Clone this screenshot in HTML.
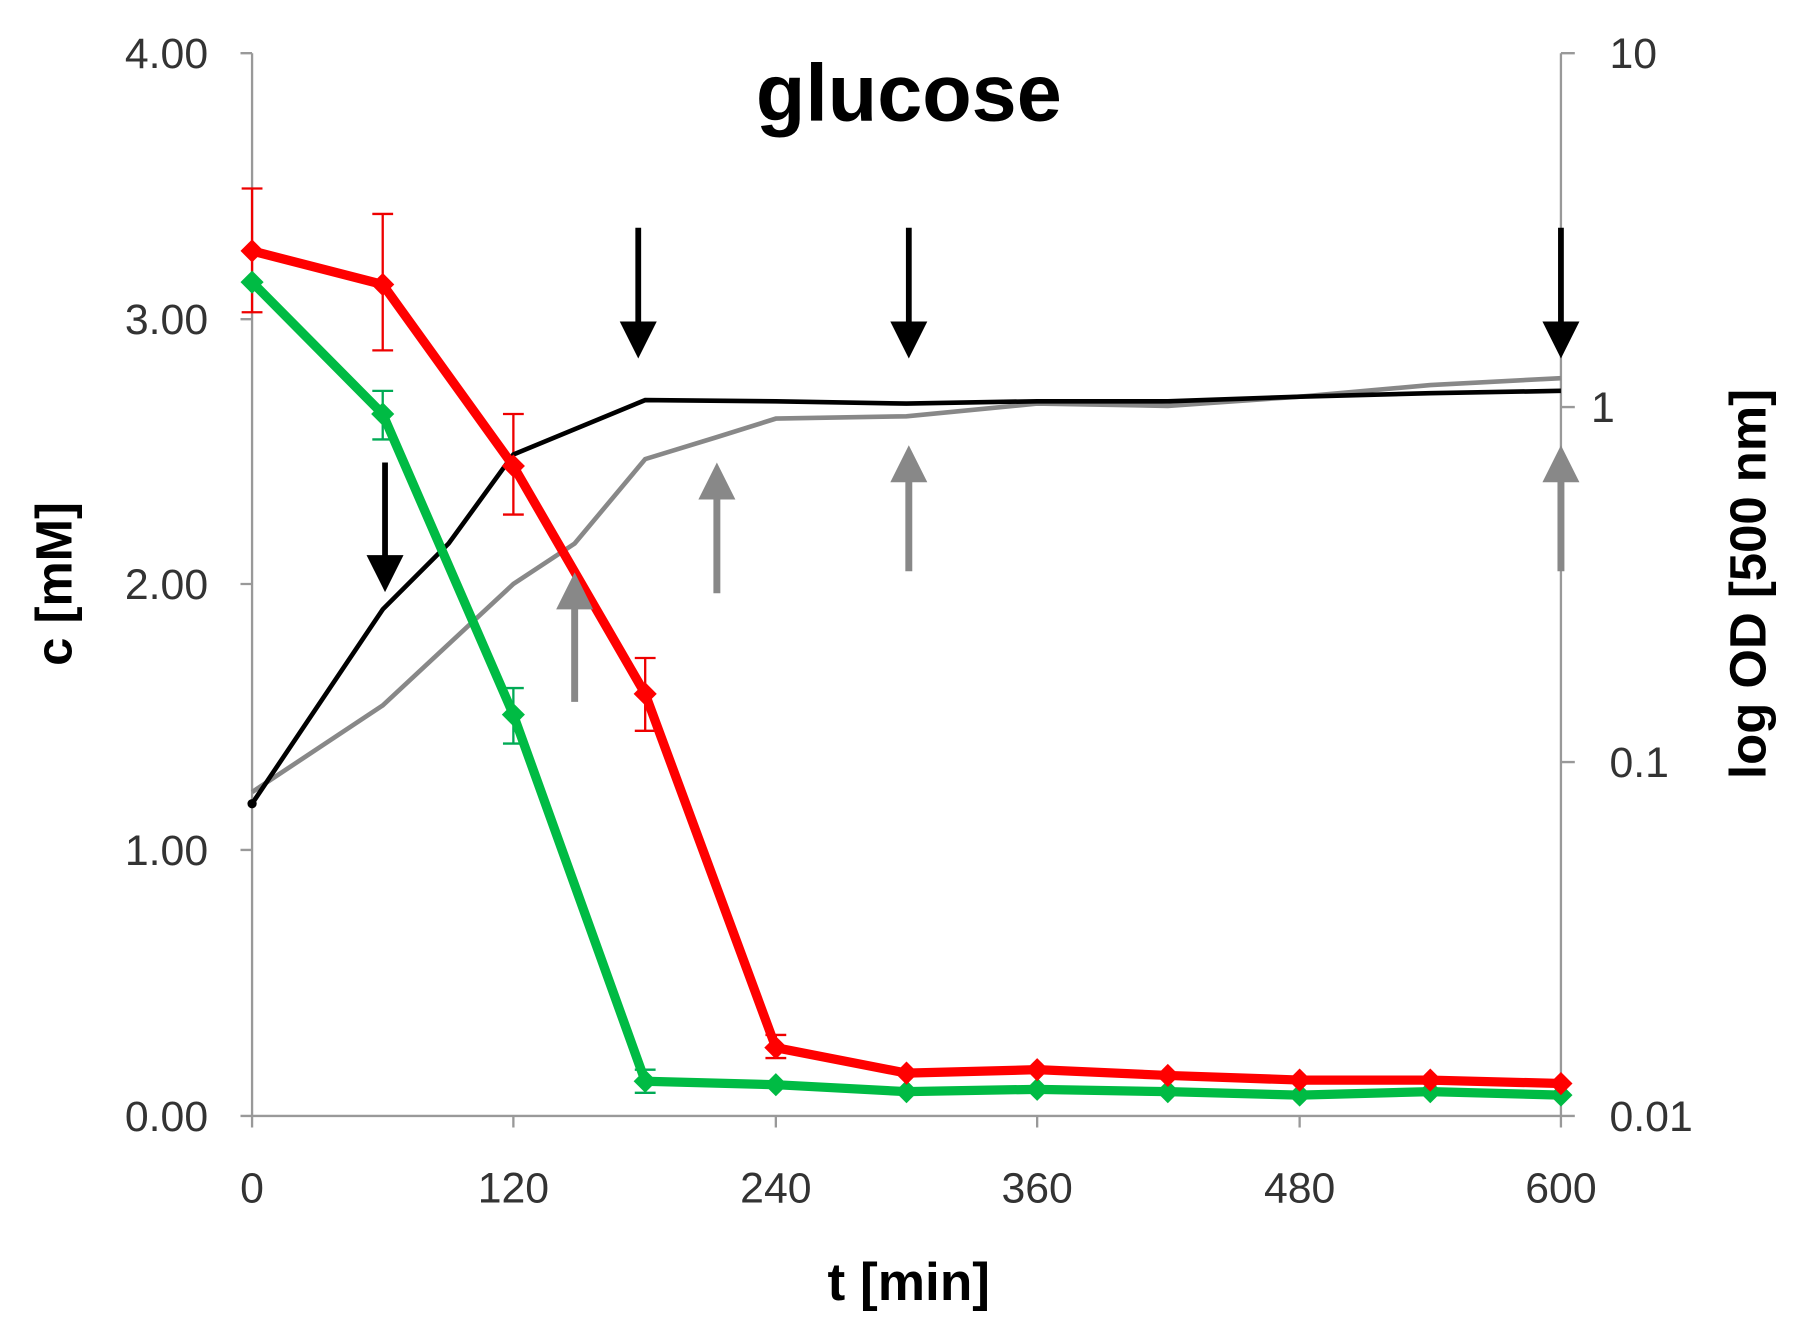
<!DOCTYPE html>
<html><head><meta charset="utf-8"><style>html,body{margin:0;padding:0;background:#fff}svg{display:block}</style></head>
<body>
<svg width="1813" height="1331" viewBox="0 0 1568 1151" preserveAspectRatio="none" xmlns="http://www.w3.org/2000/svg" font-family="Liberation Sans, sans-serif">
<g stroke="#999" stroke-width="2" fill="none">
<line x1="218" y1="46" x2="218" y2="965"/>
<line x1="1350" y1="46" x2="1350" y2="965"/>
<line x1="218" y1="965" x2="1350" y2="965"/>
<path d="M208 46H218M208 276H218M208 505H218M208 735H218M208 965H218"/>
<path d="M1350 46H1362M1350 352H1362M1350 659H1362M1350 965H1362"/>
<path d="M218 965V975M444 965V975M671 965V975M897 965V975M1124 965V975M1350 965V975"/>
</g>
<g font-size="37" fill="#333" text-anchor="end">
<text x="180" y="59">4.00</text><text x="180" y="289">3.00</text><text x="180" y="518">2.00</text><text x="180" y="748">1.00</text><text x="180" y="978">0.00</text>
</g>
<g font-size="37" fill="#333" text-anchor="start">
<text x="1392" y="59">10</text><text x="1376" y="365">1</text><text x="1392" y="672">0.1</text><text x="1392" y="978">0.01</text>
</g>
<g font-size="37" fill="#333" text-anchor="middle">
<text x="218" y="1040">0</text><text x="444" y="1040">120</text><text x="671" y="1040">240</text><text x="897" y="1040">360</text><text x="1124" y="1040">480</text><text x="1350" y="1040">600</text>
</g>
<text x="786" y="104" font-size="70" font-weight="bold" text-anchor="middle">glucose</text>
<text x="786" y="1124" font-size="46" font-weight="bold" text-anchor="middle">t [min]</text>
<text transform="translate(62,505) rotate(-90)" font-size="44" font-weight="bold" text-anchor="middle">c [mM]</text>
<text transform="translate(1527,505) rotate(-90)" font-size="44" font-weight="bold" text-anchor="middle">log OD [500 nm]</text>
<g stroke="#e00" stroke-width="2">
<path d="M218 163V270M209 163H227M209 270H227"/>
<path d="M331 185V303M322 185H340M322 303H340"/>
<path d="M444 358V445M435 358H453M435 445H453"/>
<path d="M558 569V632M549 569H567M549 632H567"/>
<path d="M671 895V915M662 895H680M662 915H680"/>
</g>
<g stroke="#0a5" stroke-width="2">
<path d="M331 338V380M322 338H340M322 380H340"/>
<path d="M444 595V643M435 595H453M435 643H453"/>
<path d="M558 925V945M549 925H567M549 945H567"/>
</g>
<polyline fill="none" stroke="#888" stroke-width="4" points="218,685 331,610 444,505 497,470 558,397 620,378 671,362 784,360 897,349 1010,351 1124,343 1237,333 1350,327"/>
<polyline fill="none" stroke="#000" stroke-width="4" points="218,695 331,527 388,470 444,393 558,346 671,347 784,349 897,347 1010,347 1124,343 1237,340 1350,338"/>
<circle cx="218" cy="695" r="4"/>
<polyline fill="none" stroke="#0b4" stroke-width="8" stroke-linejoin="round" points="218,244 331,358 444,618 558,935 671,938 784,944 897,942 1010,944 1124,947 1237,944 1350,947"/>
<polyline fill="none" stroke="#f00" stroke-width="8" stroke-linejoin="round" points="218,217 331,246 444,403 558,600 671,906 784,928 897,925 1010,930 1124,934 1237,934 1350,937"/>
<g fill="#0b4"><path d="M218 234l10 10-10 10-10-10z"/><path d="M331 348l10 10-10 10-10-10z"/><path d="M444 608l10 10-10 10-10-10z"/><path d="M558 925l10 10-10 10-10-10z"/><path d="M671 928l10 10-10 10-10-10z"/><path d="M784 934l10 10-10 10-10-10z"/><path d="M897 932l10 10-10 10-10-10z"/><path d="M1010 934l10 10-10 10-10-10z"/><path d="M1124 937l10 10-10 10-10-10z"/><path d="M1237 934l10 10-10 10-10-10z"/><path d="M1350 937l10 10-10 10-10-10z"/></g>
<g fill="#f00"><path d="M218 207l10 10-10 10-10-10z"/><path d="M331 236l10 10-10 10-10-10z"/><path d="M444 393l10 10-10 10-10-10z"/><path d="M558 590l10 10-10 10-10-10z"/><path d="M671 896l10 10-10 10-10-10z"/><path d="M784 918l10 10-10 10-10-10z"/><path d="M897 915l10 10-10 10-10-10z"/><path d="M1010 920l10 10-10 10-10-10z"/><path d="M1124 924l10 10-10 10-10-10z"/><path d="M1237 924l10 10-10 10-10-10z"/><path d="M1350 927l10 10-10 10-10-10z"/></g>
<g fill="#000" stroke="#000" stroke-width="5">
<line x1="333" y1="400" x2="333" y2="490"/><path stroke="none" d="M317 480H349L333 512z"/>
<line x1="552" y1="197" x2="552" y2="285"/><path stroke="none" d="M536 278H568L552 310z"/>
<line x1="786" y1="197" x2="786" y2="285"/><path stroke="none" d="M770 278H802L786 310z"/>
<line x1="1350" y1="197" x2="1350" y2="285"/><path stroke="none" d="M1334 278H1366L1350 310z"/>
</g>
<g fill="#888" stroke="#888" stroke-width="6">
<line x1="497" y1="520" x2="497" y2="607"/><path stroke="none" d="M481 527H513L497 495z"/>
<line x1="620" y1="425" x2="620" y2="513"/><path stroke="none" d="M604 432H636L620 400z"/>
<line x1="786" y1="410" x2="786" y2="494"/><path stroke="none" d="M770 417H802L786 385z"/>
<line x1="1350" y1="410" x2="1350" y2="494"/><path stroke="none" d="M1334 417H1366L1350 385z"/>
</g>
</svg>
</body></html>
